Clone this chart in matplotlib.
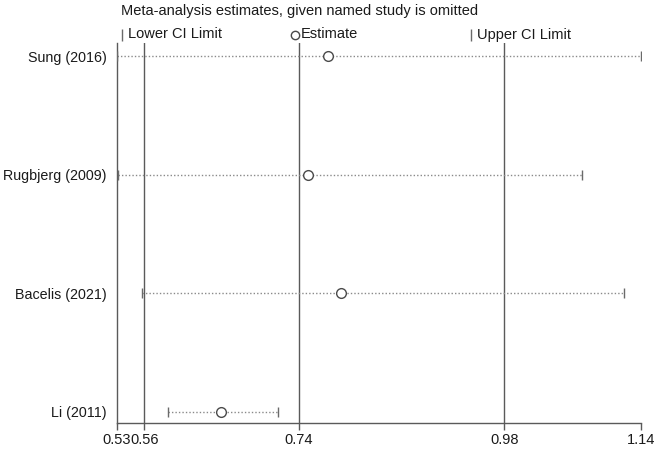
import matplotlib
matplotlib.use('Agg')
import matplotlib.pyplot as plt
from matplotlib.lines import Line2D

plt.rcParams['font.family'] = ['Liberation Sans', 'DejaVu Sans']

# study omitted, estimate and CI limits
estudos = ['Sung (2016)', 'Rugbjerg (2009)', 'Bacelis (2021)', 'Li (2011)']
estimativa = [0.774, 0.751, 0.789, 0.649]
limite_inf = [0.528, 0.529, 0.557, 0.588]
limite_sup = [1.139, 1.071, 1.120, 0.716]

# pooled estimate and its CI (vertical lines)
combinado = [0.56, 0.74, 0.98]

# x axis ticks as labelled in the chart
xticks = [0.528, 0.56, 0.74, 0.98, 1.139]
xtick_labels = ['0.53', '0.56', '0.74', '0.98', '1.14']

W, H = 661, 449
fig = plt.figure(figsize=(W / 100, H / 100), dpi=100)
ax = fig.add_axes([116.7 / W, 1 - 423 / H, (640.7 - 116.7) / W, (423 - 43) / H])

cinza = '#5a5a5a'
ys = list(range(len(estudos), 0, -1))

for v in combinado:
    ax.axvline(v, color=cinza, lw=1.0, zorder=1)

for y, est, lo, hi in zip(ys, estimativa, limite_inf, limite_sup):
    ax.plot([lo, hi], [y, y], color='#8a8a8a', lw=1.0, ls=(0, (1, 1.5)), zorder=2)
    ax.plot([lo, hi], [y, y], ls='none', marker='|', markersize=7.5,
            markeredgewidth=1.0, color='#6a6a6a', zorder=3)
    ax.plot(est, y, ls='none', marker='o', markersize=7, markerfacecolor='white',
            markeredgecolor='#4a4a4a', markeredgewidth=1.0, zorder=4)

ax.set_xlim(0.5278, 1.1386)
ax.set_ylim(0.907, 4.11)
ax.set_xticks(xticks)
ax.set_xticklabels(xtick_labels)
ax.set_yticks(ys)
ax.set_yticklabels(estudos)
ax.tick_params(axis='y', length=0, pad=7, labelsize=10.3, colors='#1a1a1a')
ax.tick_params(axis='x', length=5, width=1.0, color=cinza, pad=2, labelsize=10.5,
               labelcolor='#1a1a1a')
for s in ['top', 'right']:
    ax.spines[s].set_visible(False)
for s in ['left', 'bottom']:
    ax.spines[s].set_color(cinza)
    ax.spines[s].set_linewidth(1.0)

# title and legend
fig.text(121 / W, 1 - 11 / H, 'Meta-analysis estimates, given named study is omitted',
         fontsize=10.5, va='center', ha='left', color='#1a1a1a')
ly = 1 - 34.5 / H
fig.add_artist(Line2D([122 / W], [ly], marker='|', markersize=8, color='#6a6a6a',
                      transform=fig.transFigure))
fig.text(128 / W, ly, 'Lower CI Limit', fontsize=10.5, va='center', ha='left', color='#1a1a1a')
fig.add_artist(Line2D([294.5 / W], [ly], marker='o', markersize=6, markerfacecolor='white',
                      markeredgecolor='#4a4a4a', transform=fig.transFigure))
fig.text(300.5 / W, ly, 'Estimate', fontsize=10.5, va='center', ha='left', color='#1a1a1a')
fig.add_artist(Line2D([471 / W], [ly], marker='|', markersize=8, color='#6a6a6a',
                      transform=fig.transFigure))
fig.text(477 / W, ly, 'Upper CI Limit', fontsize=10.5, va='center', ha='left', color='#1a1a1a')

fig.savefig('out.png', dpi=100)
